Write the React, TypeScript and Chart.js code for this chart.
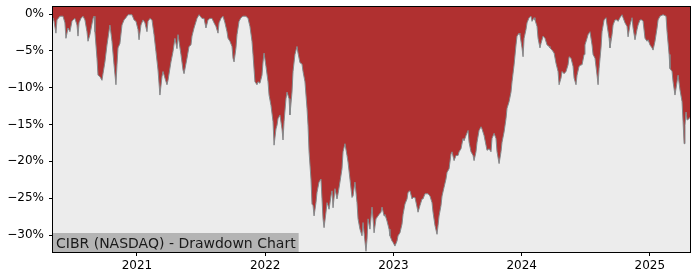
import React, { useEffect, useRef } from 'react';
import { Chart, registerables } from 'chart.js';

Chart.register(...registerables);

// Dates as decimal years
const dates = [
  2020.345, 2020.353, 2020.368, 2020.376, 2020.399, 2020.423, 2020.438, 2020.446, 2020.462, 2020.477,
  2020.493, 2020.501, 2020.516, 2020.532, 2020.540, 2020.548, 2020.563, 2020.579, 2020.594, 2020.610,
  2020.618, 2020.633, 2020.657, 2020.665, 2020.672, 2020.688, 2020.696, 2020.711, 2020.727, 2020.735,
  2020.750, 2020.766, 2020.789, 2020.805, 2020.821, 2020.836, 2020.844, 2020.852, 2020.867, 2020.883,
  2020.899, 2020.914, 2020.930, 2020.961, 2020.977, 2020.992, 2021.008, 2021.016, 2021.031, 2021.047,
  2021.062, 2021.078, 2021.086, 2021.101, 2021.117, 2021.133, 2021.148, 2021.164, 2021.179, 2021.195,
  2021.203, 2021.218, 2021.234, 2021.242, 2021.265, 2021.281, 2021.296, 2021.312, 2021.320, 2021.343,
  2021.359, 2021.367, 2021.390, 2021.406, 2021.421, 2021.429, 2021.445, 2021.468, 2021.484, 2021.507,
  2021.523, 2021.538, 2021.554, 2021.569, 2021.585, 2021.601, 2021.616, 2021.632, 2021.640, 2021.655,
  2021.671, 2021.686, 2021.702, 2021.710, 2021.725, 2021.741, 2021.749, 2021.757, 2021.772, 2021.780,
  2021.796, 2021.811, 2021.827, 2021.850, 2021.866, 2021.881, 2021.897, 2021.905, 2021.920, 2021.936,
  2021.944, 2021.959, 2021.975, 2021.983, 2021.991, 2022.006, 2022.022, 2022.030, 2022.045, 2022.061,
  2022.069, 2022.084, 2022.092, 2022.100, 2022.115, 2022.131, 2022.139, 2022.147, 2022.162, 2022.170,
  2022.186, 2022.193, 2022.209, 2022.217, 2022.232, 2022.248, 2022.256, 2022.271, 2022.287, 2022.295,
  2022.310, 2022.326, 2022.334, 2022.342, 2022.357, 2022.365, 2022.373, 2022.381, 2022.396, 2022.404,
  2022.420, 2022.435, 2022.443, 2022.451, 2022.459, 2022.474, 2022.482, 2022.490, 2022.498, 2022.513,
  2022.521, 2022.529, 2022.544, 2022.560, 2022.568, 2022.583, 2022.599, 2022.607, 2022.622, 2022.638,
  2022.646, 2022.661, 2022.677, 2022.685, 2022.700, 2022.716, 2022.724, 2022.739, 2022.755, 2022.763,
  2022.771, 2022.786, 2022.794, 2022.802, 2022.817, 2022.833, 2022.841, 2022.849, 2022.864, 2022.880,
  2022.888, 2022.903, 2022.911, 2022.927, 2022.934, 2022.950, 2022.966, 2022.973, 2022.989, 2022.997,
  2023.012, 2023.028, 2023.036, 2023.051, 2023.067, 2023.075, 2023.090, 2023.106, 2023.114, 2023.129,
  2023.145, 2023.153, 2023.168, 2023.184, 2023.192, 2023.207, 2023.223, 2023.231, 2023.246, 2023.270,
  2023.285, 2023.301, 2023.309, 2023.324, 2023.340, 2023.348, 2023.356, 2023.371, 2023.379, 2023.395,
  2023.410, 2023.418, 2023.434, 2023.449, 2023.457, 2023.473, 2023.488, 2023.504, 2023.512, 2023.527,
  2023.543, 2023.551, 2023.566, 2023.582, 2023.590, 2023.605, 2023.621, 2023.629, 2023.644, 2023.652,
  2023.668, 2023.683, 2023.691, 2023.707, 2023.722, 2023.730, 2023.746, 2023.761, 2023.769, 2023.785,
  2023.800, 2023.808, 2023.824, 2023.839, 2023.847, 2023.863, 2023.878, 2023.886, 2023.902, 2023.917,
  2023.925, 2023.941, 2023.956, 2023.964, 2023.980, 2023.987, 2024.003, 2024.011, 2024.019, 2024.034,
  2024.042, 2024.058, 2024.073, 2024.081, 2024.097, 2024.104, 2024.120, 2024.128, 2024.143, 2024.151,
  2024.167, 2024.182, 2024.198, 2024.214, 2024.221, 2024.237, 2024.253, 2024.268, 2024.284, 2024.292,
  2024.307, 2024.315, 2024.331, 2024.346, 2024.362, 2024.370, 2024.385, 2024.401, 2024.409, 2024.424,
  2024.432, 2024.448, 2024.463, 2024.471, 2024.487, 2024.494, 2024.510, 2024.518, 2024.533, 2024.549,
  2024.557, 2024.572, 2024.588, 2024.596, 2024.604, 2024.619, 2024.627, 2024.643, 2024.658, 2024.666,
  2024.682, 2024.689, 2024.705, 2024.713, 2024.728, 2024.744, 2024.752, 2024.767, 2024.783, 2024.791,
  2024.806, 2024.822, 2024.830, 2024.845, 2024.861, 2024.869, 2024.884, 2024.900, 2024.908, 2024.923,
  2024.939, 2024.947, 2024.962, 2024.978, 2024.986, 2025.001, 2025.017, 2025.025, 2025.040, 2025.056,
  2025.064, 2025.079, 2025.103, 2025.126, 2025.134, 2025.150, 2025.157, 2025.173, 2025.181, 2025.196,
  2025.212, 2025.220, 2025.235, 2025.251, 2025.259, 2025.267, 2025.274, 2025.282, 2025.290, 2025.306,
  2025.313,
];

// Drawdown in percent
const drawdown = [
  -0.5, -1.0, -2.6, -0.8, -0.3, -0.3, -1.2, -3.3, -1.9, -2.4,
  -1.0, -0.8, -0.6, -1.5, -3.0, -1.2, -0.6, -0.3, -0.8, -2.4,
  -3.7, -2.8, -0.6, -0.3, -2.4, -6.0, -8.3, -8.5, -9.0, -8.1,
  -6.5, -4.2, -1.5, -3.7, -6.9, -9.6, -6.9, -4.6, -4.0, -1.5,
  -0.8, -0.5, -0.1, -0.1, -0.8, -1.0, -2.1, -3.5, -1.5, -0.8,
  -1.2, -2.4, -1.0, -0.6, -0.8, -2.8, -5.1, -7.6, -11.0, -8.5,
  -7.8, -8.7, -9.6, -9.0, -6.5, -5.1, -3.3, -4.7, -2.8, -5.5,
  -7.6, -8.1, -6.0, -4.4, -4.2, -3.0, -1.9, -0.6, -0.1, -0.6,
  -0.6, -1.9, -0.8, -0.6, -0.6, -1.2, -1.7, -2.6, -1.2, -0.6,
  -0.3, -1.2, -2.4, -3.3, -3.7, -4.4, -6.0, -6.5, -4.6, -2.8,
  -1.0, -0.5, -0.3, -0.3, -0.6, -1.7, -3.7, -5.5, -9.2, -9.6,
  -9.2, -9.4, -8.3, -6.5, -5.3, -7.1, -9.2, -11.0, -12.4, -14.6,
  -17.8, -15.6, -15.1, -14.2, -13.7, -15.6, -17.1, -14.6, -11.5, -10.6,
  -11.5, -13.7, -10.6, -7.8, -5.5, -4.4, -5.3, -6.6, -6.8, -7.8,
  -9.2, -12.8, -15.1, -18.7, -22.4, -25.8, -26.0, -27.4, -25.6, -24.2,
  -22.8, -22.4, -25.1, -27.8, -29.0, -26.9, -25.6, -26.0, -26.5, -24.7,
  -24.0, -26.3, -23.7, -25.1, -24.4, -22.8, -21.0, -18.7, -17.6, -19.2,
  -20.1, -22.4, -24.9, -24.7, -22.8, -25.6, -27.8, -29.2, -30.1, -28.3,
  -29.7, -32.2, -30.6, -27.8, -29.2, -26.2, -27.8, -29.7, -27.8, -27.4,
  -27.2, -26.9, -26.2, -27.4, -27.2, -28.1, -29.2, -30.1, -30.8, -31.0,
  -31.5, -30.8, -30.1, -29.7, -28.5, -27.2, -25.8, -25.1, -24.2, -24.0,
  -25.1, -24.9, -24.9, -26.2, -26.9, -26.0, -25.1, -25.1, -24.4, -24.4,
  -24.7, -25.6, -26.9, -28.7, -29.9, -28.7, -27.4, -26.0, -24.7, -23.5,
  -22.4, -21.5, -21.0, -19.0, -18.7, -19.9, -19.2, -19.2, -18.7, -18.3,
  -16.9, -17.2, -16.5, -15.8, -17.4, -18.7, -19.2, -19.9, -18.7, -17.4,
  -15.8, -15.3, -15.6, -16.5, -17.8, -18.5, -18.3, -18.7, -16.9, -16.2,
  -16.9, -18.7, -20.3, -18.7, -17.4, -16.0, -14.2, -12.8, -11.9, -10.6,
  -9.2, -6.9, -4.2, -3.0, -2.6, -2.8, -4.6, -5.8, -3.3, -2.1,
  -1.2, -0.5, -0.3, -1.0, -0.5, -0.8, -1.7, -3.3, -4.6, -4.0,
  -3.0, -3.3, -4.2, -4.4, -4.6, -4.9, -5.3, -6.7, -7.8, -9.6,
  -8.7, -7.8, -8.1, -7.8, -6.9, -5.8, -6.0, -7.1, -8.7, -9.6,
  -8.3, -7.1, -6.9, -6.9, -5.5, -4.2, -3.3, -2.8, -2.4, -4.2,
  -5.5, -6.0, -8.3, -9.6, -7.4, -4.6, -2.4, -0.8, -0.5, -1.5,
  -3.3, -4.6, -2.8, -1.5, -0.8, -0.8, -1.0, -0.5, -0.1, -0.5,
  -1.2, -1.7, -3.1, -1.5, -0.5, -1.9, -3.5, -2.1, -1.5, -0.8,
  -0.8, -1.0, -3.3, -3.7, -3.5, -4.2, -4.6, -4.9, -3.7, -1.9,
  -0.8, -0.3, -0.1, -0.3, -2.4, -5.5, -7.4, -7.8, -9.2, -11.0,
  -9.2, -8.3, -10.3, -11.9, -14.6, -17.6, -15.1, -13.3, -14.4, -14.2,
  -14.0,
];

const yTickValues = [0, -5, -10, -15, -20, -25, -30];
const yearTicks = [2021, 2022, 2023, 2024, 2025];
const chartLabel = 'CIBR (NASDAQ) - Drawdown Chart';

const FONT = "'DejaVu Sans', sans-serif";

export default function App() {
  const ref = useRef<HTMLCanvasElement>(null);

  useEffect(() => {
    if (!ref.current) return;

    const decor = {
      id: 'decor',
      beforeDraw(chart: any) {
        const { ctx, chartArea: a } = chart;
        ctx.save();
        ctx.fillStyle = '#ffffff';
        ctx.fillRect(0, 0, chart.width, chart.height);
        ctx.fillStyle = '#ececec';
        ctx.fillRect(a.left, a.top, a.right - a.left, a.bottom - a.top);
        ctx.restore();
      },
      afterDatasetsDraw(chart: any) {
        const { ctx, chartArea: a } = chart;
        ctx.save();
        ctx.font = `14px ${FONT}`;
        const w = ctx.measureText(chartLabel).width;
        const h = 19;
        ctx.fillStyle = '#b4b4b4';
        ctx.fillRect(a.left, a.bottom - h, w + 6, h);
        ctx.fillStyle = '#1a1a1a';
        ctx.textBaseline = 'alphabetic';
        ctx.fillText(chartLabel, a.left + 3, a.bottom - 4);
        ctx.restore();
      },
      afterDraw(chart: any) {
        const { ctx, chartArea: a } = chart;
        ctx.save();
        ctx.strokeStyle = '#000000';
        ctx.lineWidth = 1;
        ctx.strokeRect(Math.round(a.left) - 0.5, Math.round(a.top) - 0.5, Math.round(a.right - a.left) + 1, Math.round(a.bottom - a.top) + 1);
        ctx.restore();
      },
    };

    const chart = new Chart(ref.current, {
      type: 'line',
      data: {
        datasets: [
          {
            data: dates.map((d, i) => ({ x: d, y: drawdown[i] })),
            borderColor: '#85898b',
            borderWidth: 1,
            backgroundColor: '#b03030',
            fill: 'end',
            pointRadius: 0,
            tension: 0,
          },
        ],
      },
      options: {
        responsive: false,
        animation: false,
        events: [],
        layout: { padding: { top: 7, right: 10, left: 0, bottom: 0 } },
        plugins: { legend: { display: false }, tooltip: { enabled: false } },
        scales: {
          x: {
            type: 'linear',
            min: 2020.345,
            max: 2025.313,
            afterBuildTicks: (axis: any) => {
              axis.ticks = yearTicks.map((v) => ({ value: v }));
            },
            afterFit: (axis: any) => {
              axis.height = 28;
              axis.paddingLeft = 0;
              axis.paddingRight = 0;
            },
            ticks: {
              autoSkip: false,
              maxRotation: 0,
              color: '#000000',
              font: { family: FONT, size: 12 },
              padding: 3,
              callback: (v: any) => String(v),
            },
            grid: { drawOnChartArea: false, drawTicks: true, tickLength: 4, color: '#000000' },
            border: { display: false },
          },
          y: {
            type: 'linear',
            min: -32.3,
            max: 0.95,
            afterBuildTicks: (axis: any) => {
              axis.ticks = yTickValues.map((v) => ({ value: v }));
            },
            afterFit: (axis: any) => {
              axis.width = 53;
              axis.paddingTop = 0;
              axis.paddingBottom = 0;
            },
            ticks: {
              autoSkip: false,
              color: '#000000',
              font: { family: FONT, size: 12 },
              padding: 5,
              callback: (v: any) => (v < 0 ? '\u2212' : '') + Math.abs(v) + '%',
            },
            grid: { drawOnChartArea: false, drawTicks: true, tickLength: 4, color: '#000000' },
            border: { display: false },
          },
        },
      },
      plugins: [decor],
    });

    return () => chart.destroy();
  }, []);

  return (
    <div style={{ position: 'absolute', left: 0, top: 0, width: 700, height: 280 }}>
      <canvas ref={ref} width={700} height={280} style={{ display: 'block' }} />
    </div>
  );
}
